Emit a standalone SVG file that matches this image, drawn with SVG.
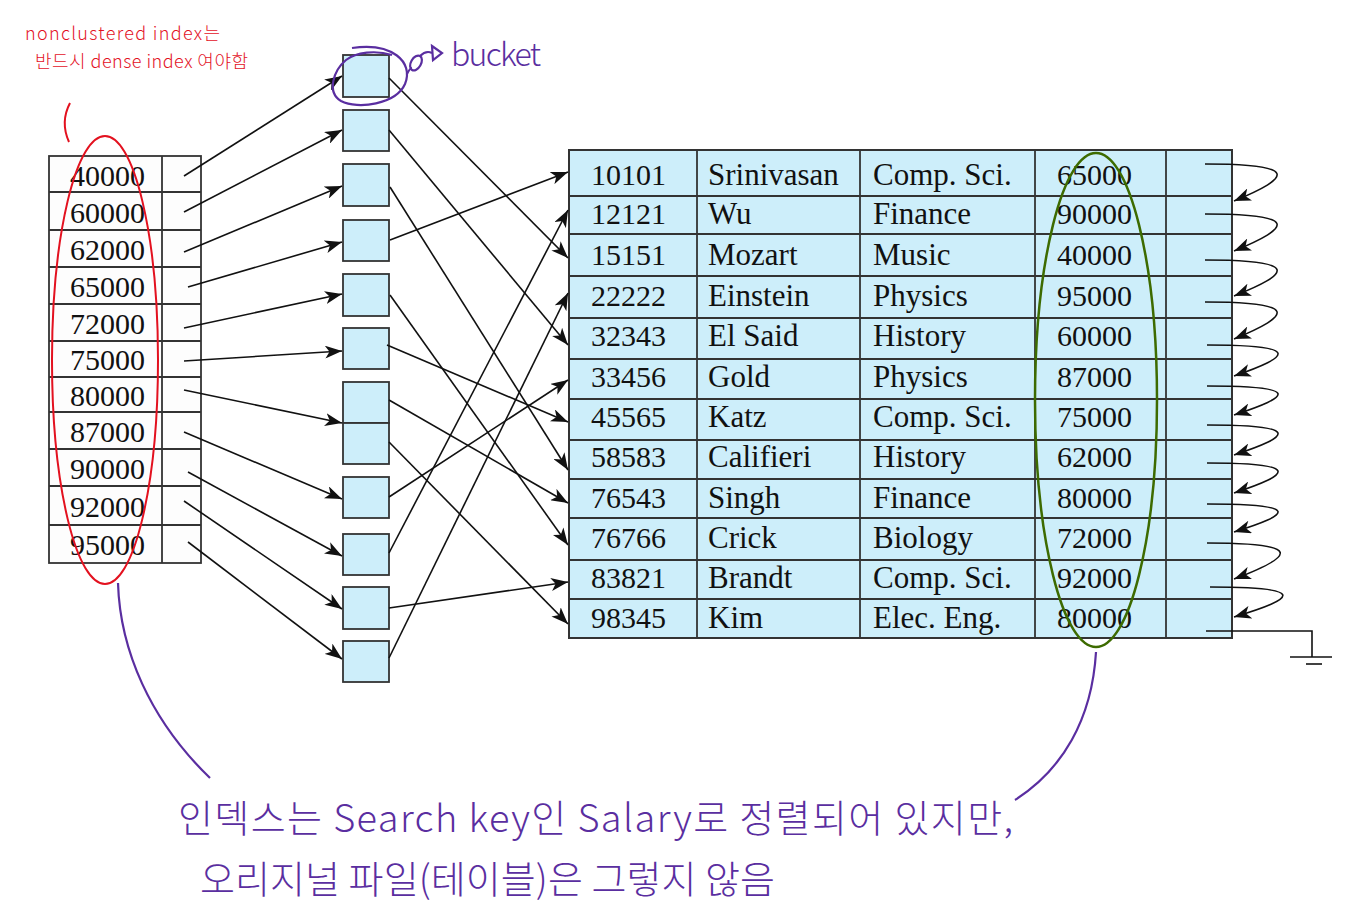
<svg xmlns="http://www.w3.org/2000/svg" width="1370" height="919" viewBox="0 0 1370 919">
<style>
.cell{fill:#fdfdfd;stroke:#333;stroke-width:1.8}
.bk{fill:#cdeefa;stroke:#333;stroke-width:1.8}
.tbl{fill:#cdeefa;stroke:#333;stroke-width:2}
.ln{stroke:#333;stroke-width:1.8}
.num{font-family:"Liberation Serif",serif;font-size:30px;fill:#111}
.wd{font-family:"Liberation Serif",serif;font-size:31px;fill:#111}
.arr{fill:none;stroke:#111;stroke-width:1.6;marker-end:url(#ah)}
.hw{font-family:"Noto Sans CJK KR",sans-serif;font-weight:300}
.pur{fill:#5a2ea0}
.red{fill:#e3111f}
.ps{fill:none;stroke:#5a2ea0;stroke-width:2.2}
</style>
<defs>
<marker id="ah" viewBox="0 0 17 13" refX="17" refY="6.5" markerWidth="17" markerHeight="13" markerUnits="userSpaceOnUse" orient="auto">
<path d="M0,0 L17,6.5 L0,13 L4.5,6.5 z" fill="#111"/>
</marker>
</defs>

<g id="index-file">
<rect class="cell" x="49" y="156" width="152" height="407"/>
<line class="ln" x1="162" y1="156" x2="162" y2="563"/>
<line class="ln" x1="49" y1="192" x2="201" y2="192"/>
<line class="ln" x1="49" y1="230" x2="201" y2="230"/>
<line class="ln" x1="49" y1="267" x2="201" y2="267"/>
<line class="ln" x1="49" y1="304" x2="201" y2="304"/>
<line class="ln" x1="49" y1="341" x2="201" y2="341"/>
<line class="ln" x1="49" y1="377" x2="201" y2="377"/>
<line class="ln" x1="49" y1="412" x2="201" y2="412"/>
<line class="ln" x1="49" y1="449" x2="201" y2="449"/>
<line class="ln" x1="49" y1="486" x2="201" y2="486"/>
<line class="ln" x1="49" y1="525" x2="201" y2="525"/>
<text class="num" x="70" y="186">40000</text>
<text class="num" x="70" y="223">60000</text>
<text class="num" x="70" y="260">62000</text>
<text class="num" x="70" y="297">65000</text>
<text class="num" x="70" y="334">72000</text>
<text class="num" x="70" y="370">75000</text>
<text class="num" x="70" y="406">80000</text>
<text class="num" x="70" y="442">87000</text>
<text class="num" x="70" y="479">90000</text>
<text class="num" x="70" y="517">92000</text>
<text class="num" x="70" y="555">95000</text>
</g>

<g id="buckets">
<rect class="bk" x="343" y="55" width="46" height="42"/>
<rect class="bk" x="343" y="110" width="46" height="41"/>
<rect class="bk" x="343" y="164" width="46" height="42"/>
<rect class="bk" x="343" y="220" width="46" height="41"/>
<rect class="bk" x="343" y="274" width="46" height="42"/>
<rect class="bk" x="343" y="328" width="46" height="41"/>
<rect class="bk" x="343" y="382" width="46" height="41"/>
<rect class="bk" x="343" y="423" width="46" height="41"/>
<rect class="bk" x="343" y="477" width="46" height="41"/>
<rect class="bk" x="343" y="534" width="46" height="41"/>
<rect class="bk" x="343" y="587" width="46" height="42"/>
<rect class="bk" x="343" y="641" width="46" height="41"/>
</g>

<g id="instructor-table">
<rect class="tbl" x="569" y="150" width="663" height="488"/>
<line class="ln" x1="697" y1="150" x2="697" y2="638"/>
<line class="ln" x1="860" y1="150" x2="860" y2="638"/>
<line class="ln" x1="1035" y1="150" x2="1035" y2="638"/>
<line class="ln" x1="1166" y1="150" x2="1166" y2="638"/>
<line class="ln" x1="569" y1="196" x2="1232" y2="196"/>
<line class="ln" x1="569" y1="234" x2="1232" y2="234"/>
<line class="ln" x1="569" y1="276" x2="1232" y2="276"/>
<line class="ln" x1="569" y1="318" x2="1232" y2="318"/>
<line class="ln" x1="569" y1="359" x2="1232" y2="359"/>
<line class="ln" x1="569" y1="399" x2="1232" y2="399"/>
<line class="ln" x1="569" y1="440" x2="1232" y2="440"/>
<line class="ln" x1="569" y1="479" x2="1232" y2="479"/>
<line class="ln" x1="569" y1="518" x2="1232" y2="518"/>
<line class="ln" x1="569" y1="560" x2="1232" y2="560"/>
<line class="ln" x1="569" y1="599" x2="1232" y2="599"/>
<g class="num">
<text x="591" y="185">10101</text><text x="591" y="224">12121</text><text x="591" y="265">15151</text><text x="591" y="306">22222</text>
<text x="591" y="346">32343</text><text x="591" y="387">33456</text><text x="591" y="427">45565</text><text x="591" y="467">58583</text>
<text x="591" y="508">76543</text><text x="591" y="548">76766</text><text x="591" y="588">83821</text><text x="591" y="628">98345</text>
<text x="1057" y="185">65000</text><text x="1057" y="224">90000</text><text x="1057" y="265">40000</text><text x="1057" y="306">95000</text>
<text x="1057" y="346">60000</text><text x="1057" y="387">87000</text><text x="1057" y="427">75000</text><text x="1057" y="467">62000</text>
<text x="1057" y="508">80000</text><text x="1057" y="548">72000</text><text x="1057" y="588">92000</text><text x="1057" y="628">80000</text>
</g>
<g class="wd">
<text x="708" y="185">Srinivasan</text><text x="708" y="224">Wu</text><text x="708" y="265">Mozart</text><text x="708" y="306">Einstein</text>
<text x="708" y="346">El Said</text><text x="708" y="387">Gold</text><text x="708" y="427">Katz</text><text x="708" y="467">Califieri</text>
<text x="708" y="508">Singh</text><text x="708" y="548">Crick</text><text x="708" y="588">Brandt</text><text x="708" y="628">Kim</text>
<text x="873" y="185">Comp. Sci.</text><text x="873" y="224">Finance</text><text x="873" y="265">Music</text><text x="873" y="306">Physics</text>
<text x="873" y="346">History</text><text x="873" y="387">Physics</text><text x="873" y="427">Comp. Sci.</text><text x="873" y="467">History</text>
<text x="873" y="508">Finance</text><text x="873" y="548">Biology</text><text x="873" y="588">Comp. Sci.</text><text x="873" y="628">Elec. Eng.</text>
</g>
</g>

<g id="connectors">
<path class="arr" d="M184,176 L342,76"/>
<path class="arr" d="M184,212 L342,130"/>
<path class="arr" d="M184,252 L342,186"/>
<path class="arr" d="M188,287 L342,242"/>
<path class="arr" d="M184,328 L342,294"/>
<path class="arr" d="M184,361 L342,351"/>
<path class="arr" d="M184,390 L342,423"/>
<path class="arr" d="M184,432 L342,499"/>
<path class="arr" d="M188,472 L342,556"/>
<path class="arr" d="M184,501 L342,609"/>
<path class="arr" d="M188,542 L342,659"/>

<path class="arr" d="M389,78 L568,258"/>
<path class="arr" d="M389,130 L568,345"/>
<path class="arr" d="M390,187 L568,470"/>
<path class="arr" d="M390,240 L568,172"/>
<path class="arr" d="M390,295 L568,545"/>
<path class="arr" d="M387,345 L568,422"/>
<path class="arr" d="M389,400 L568,503"/>
<path class="arr" d="M389,442 L568,624"/>
<path class="arr" d="M389,497 L568,380"/>
<path class="arr" d="M389,553 L568,210"/>
<path class="arr" d="M389,608 L568,582"/>
<path class="arr" d="M389,658 L568,293"/>

<path class="arr" d="M1205,164 C1300,164 1292,177 1234,201"/>
<path class="arr" d="M1205,214 C1300,214 1292,227 1234,251"/>
<path class="arr" d="M1205,260 C1300,260 1292,273 1234,296"/>
<path class="arr" d="M1205,302 C1300,302 1292,315 1234,339"/>
<path class="arr" d="M1207,345 C1302,345 1292,356 1234,376"/>
<path class="arr" d="M1207,386 C1302,386 1292,396 1234,415"/>
<path class="arr" d="M1207,425 C1302,425 1292,436 1234,455"/>
<path class="arr" d="M1207,463 C1302,463 1292,474 1234,493"/>
<path class="arr" d="M1207,504 C1302,504 1292,514 1234,532"/>
<path class="arr" d="M1207,543 C1305,543 1295,556 1234,579"/>
<path class="arr" d="M1210,587 C1308,587 1298,598 1234,617"/>
<path d="M1206,631 L1312,631 L1312,657" fill="none" stroke="#111" stroke-width="1.6"/>
<line x1="1290" y1="657" x2="1332" y2="657" stroke="#111" stroke-width="1.6"/>
<line x1="1306" y1="664" x2="1322" y2="664" stroke="#111" stroke-width="1.6"/>
</g>

<g id="annotations">
<text class="hw red" x="25" y="40" font-size="18" textLength="195" lengthAdjust="spacing">nonclustered index는</text>
<text class="hw red" x="35" y="68" font-size="18" textLength="213" lengthAdjust="spacing">반드시 dense index 여야함</text>
<path d="M70,103 Q60,122 69,142" fill="none" stroke="#e3111f" stroke-width="2"/>
<ellipse cx="105" cy="360" rx="53" ry="224" fill="none" stroke="#e3111f" stroke-width="2"/>
<ellipse cx="1096" cy="400" rx="61" ry="247" fill="none" stroke="#3d6b00" stroke-width="2.5"/>
<path class="ps" d="M352,48 C392,42 414,62 405,84 C396,104 358,110 341,101 C326,92 334,70 346,60 C356,52 376,50 392,55"/>
<ellipse class="ps" cx="416" cy="63" rx="5" ry="8" transform="rotate(30 416 63)"/>
<path class="ps" d="M407,74 C409,70 411,68 412,68 M420,56 C424,52 428,51 432,53"/>
<path class="ps" d="M432,46 L442,53 L433,60 Z"/>
<text class="hw pur" x="451" y="66" font-size="32" textLength="90" lengthAdjust="spacing">bucket</text>
<path class="ps" d="M118,583 C120,650 150,720 210,778"/>
<path class="ps" d="M1096,652 C1092,720 1062,770 1015,800"/>
<text class="hw pur" x="178" y="832" font-size="38" textLength="835" lengthAdjust="spacing">인덱스는 Search key인 Salary로 정렬되어 있지만,</text>
<text class="hw pur" x="200" y="893" font-size="38" textLength="575" lengthAdjust="spacing">오리지널 파일(테이블)은 그렇지 않음</text>
</g>
</svg>
